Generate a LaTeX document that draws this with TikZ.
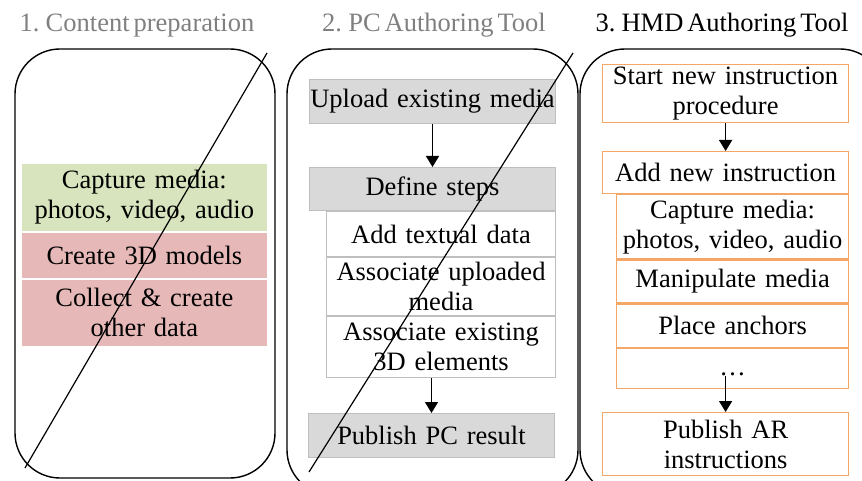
\documentclass[tikz,border=0pt]{standalone}
\usepackage{fontspec}
\setmainfont{Liberation Serif}[WordSpace=0.6]
\usetikzlibrary{arrows.meta,positioning}
\definecolor{capgreen}{HTML}{D7E4BD}
\definecolor{modred}{HTML}{E6B9B8}
\definecolor{pcgray}{HTML}{D9D9D9}
\definecolor{pcedge}{HTML}{BFBFBF}
\definecolor{hmdorange}{HTML}{F4A766}
\definecolor{titlegray}{HTML}{808080}
\tikzset{every picture/.style={
  >={Triangle[width=13pt,length=11pt]}  % Big filled arrow heads.
  }
}

\begin{document}
\begin{tikzpicture}[
        x=1pt, y=-1pt,
        node distance=0pt,
        font=\fontsize{26.5}{30}\selectfont,
        panel/.style={draw, line width=1.4pt, rounded corners=45pt},
        title/.style={anchor=base},
        cell/.style={inner sep=0pt, align=center, text width=#1},
        prep/.style={cell=246pt, fill=#1, draw=white, line width=0.8pt},
        pcbox/.style={cell=246pt, fill=pcgray, draw=pcedge, line width=1pt},
        pcsub/.style={cell=229pt, fill=white, draw=pcedge, line width=1pt},
        hmdbox/.style={cell=#1, fill=white, draw=hmdorange, line width=1.2pt},
        flow/.style={->, line width=1.4pt}
        ]

        \useasboundingbox (0,0) rectangle (862,481);
        \clip (0,0) rectangle (862,481);

        % Column titles.
        \node[title, titlegray] (t1) at (137,32) {1. Content preparation};
        \node[title, titlegray] (t2) at (434,32) {2. PC Authoring Tool};
        \node[title]            (t3) at (722,32) {3. HMD Authoring Tool};

        % The three rounded panels.
        \draw[panel] (15,49) rectangle (275,478);
        \draw[panel] (287,49) rectangle (578,495);
        \draw[panel] (580,49) rectangle (885,495);

        % 1. Content preparation.
        \node[prep=capgreen, minimum height=68pt, anchor=north west] (cap1) at (21,163)
          {Capture media:\\photos, video, audio};
        \node[prep=modred, minimum height=46pt, below=of cap1] (mod1) {Create 3D models};
        \node[prep=modred, minimum height=67pt, below=of mod1] (col1)
          {Collect \& create\\other data};

        % 2. PC authoring tool.
        \node[pcbox, minimum height=44pt, anchor=north west] (upl) at (309,79)
          {Upload existing media};
        \node[pcbox, minimum height=43pt, anchor=north west] (defs) at (309,167)
          {Define steps};
        \node[pcsub, minimum height=45pt, below=of defs.south east, anchor=north east] (addt)
          {Add textual data};
        \node[pcsub, minimum height=58pt, below=of addt] (asup)
          {Associate uploaded\\media};
        \node[pcsub, minimum height=61pt, below=of asup] (as3d)
          {Associate existing\\3D elements};
        \node[pcbox, minimum height=44pt, anchor=north west] (pubpc) at (308,413)
          {Publish PC result};

        \draw[flow] (upl) -- (defs);
        \draw[flow] (pubpc.north |- as3d.south) -- (pubpc.north);

        % 3. HMD authoring tool.
        \node[hmdbox=246pt, minimum height=58pt, anchor=north west] (start) at (602,64)
          {Start new instruction\\procedure};
        \node[hmdbox=246pt, minimum height=42pt, anchor=north west] (addn) at (602,151)
          {Add new instruction};
        \node[hmdbox=232pt, minimum height=64pt, below=of addn.south east, anchor=north east] (capm)
          {Capture media:\\photos, video, audio};
        \node[hmdbox=232pt, minimum height=43pt, below=of capm] (manip) {Manipulate media};
        \node[hmdbox=232pt, minimum height=43pt, below=of manip] (anch) {Place anchors};
        \node[hmdbox=232pt, minimum height=40pt, below=of anch] (more) {};
        \node[inner sep=0pt] (dots) at ([yshift=-6pt]more.center) {\dots};
        \node[hmdbox=246pt, minimum height=63pt, anchor=north west] (pubar) at (602,412)
          {Publish AR\\instructions};

        \draw[flow] (start) -- (addn);
        \draw[flow] (pubar.north |- dots.south) -- (pubar.north);

        % Strike the first two columns through.
        \draw[line width=1.2pt] (25,468) -- (267,53);
        \draw[line width=1.2pt] (309,472) -- (573,53);
      \end{tikzpicture}
\end{document}
